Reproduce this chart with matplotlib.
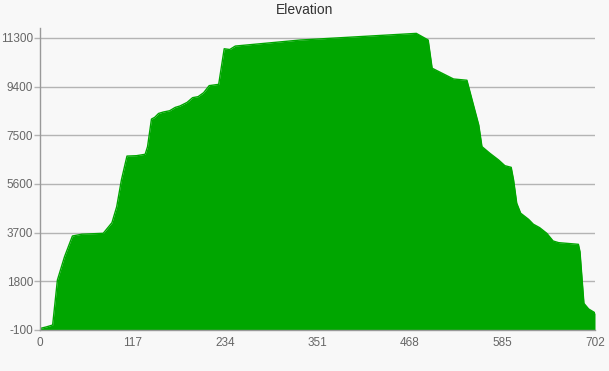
import matplotlib.pyplot as plt

plt.rcParams['font.family'] = ['Liberation Sans', 'DejaVu Sans']
plt.rcParams['axes.unicode_minus'] = False

# --- Data ---
distance = [0, 8, 16, 22, 31, 41, 53, 80, 91, 97, 103, 110, 122, 133, 136,
            141, 145, 150, 156, 164, 171, 177, 186, 193, 200, 207, 214, 226,
            233, 240, 247, 329, 476, 487, 491, 496, 523, 540, 555, 559, 569,
            580, 588, 596, 599, 603, 608, 618, 624, 632, 641, 649, 656, 681,
            683, 688, 694, 701, 702]
elevation = [-40, 20, 95, 1850, 2760, 3570, 3640, 3675, 4090, 4710, 5760,
             6690, 6705, 6760, 7055, 8135, 8200, 8355, 8410, 8460, 8590, 8645,
             8785, 8970, 9010, 9165, 9440, 9490, 10880, 10850, 10985, 11220,
             11480, 11290, 11220, 10120, 9700, 9650, 7900, 7060, 6800, 6540,
             6315, 6250, 5760, 4850, 4460, 4220, 4030, 3895, 3675, 3375, 3310,
             3245, 2960, 940, 720, 590, 550]

x_ticks = [0, 117, 234, 351, 468, 585, 702]
y_ticks = [-100, 1800, 3700, 5600, 7500, 9400, 11300]

bg = '#f8f8f8'
green = '#00a600'
grey = '#999999'

fig = plt.figure(figsize=(6.09, 3.71), dpi=100, facecolor=bg)
ax = fig.add_axes([40 / 609, 41 / 371, 555 / 609, 302 / 371], facecolor=bg)

ax.fill_between(distance, elevation, -100, color=green, linewidth=0, zorder=3)
ax.plot(distance, elevation, color=green, lw=1, zorder=3)

ax.set_xlim(0, 702)
ax.set_ylim(-100, 11690)
ax.set_xticks(x_ticks)
ax.set_yticks(y_ticks)
ax.grid(axis='y', color='#b4b4b4', lw=1, zorder=1)

for s in ['top', 'right']:
    ax.spines[s].set_visible(False)
for s in ['left', 'bottom']:
    ax.spines[s].set_color(grey)
    ax.spines[s].set_linewidth(1)
    ax.spines[s].set_zorder(4)

ax.tick_params(axis='y', length=4, width=1, color='#b4b4b4', pad=1,
               labelsize=8.5, labelcolor='#666666')
ax.tick_params(axis='x', length=0, pad=5, labelsize=8.5, labelcolor='#666666')

fig.text(0.5, 1 - 10 / 371, "Elevation", ha='center', va='center',
         fontsize=10, color='#333333')

fig.savefig('out.png', dpi=100, facecolor=bg)
